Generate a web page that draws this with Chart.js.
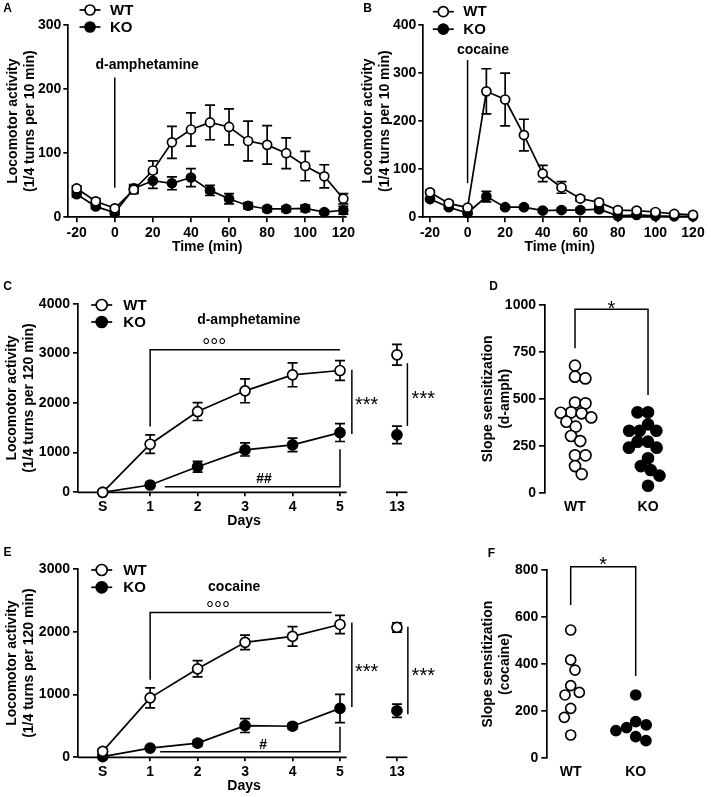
<!DOCTYPE html>
<html>
<head>
<meta charset="utf-8">
<script src="https://cdn.jsdelivr.net/npm/chart.js@4.4.1/dist/chart.umd.min.js"></script>
<style>
  html, body { margin: 0; padding: 0; background: #fff; }
  #fig { position: relative; width: 711px; height: 797px; }
  #fig canvas { position: absolute; left: 0; top: 0; }
</style>
</head>
<body>
<div id="fig">
  <canvas id="panelA" width="711" height="797"></canvas>
  <canvas id="panelB" width="711" height="797"></canvas>
  <canvas id="panelC" width="711" height="797"></canvas>
  <canvas id="panelD" width="711" height="797"></canvas>
  <canvas id="panelE" width="711" height="797"></canvas>
  <canvas id="panelF" width="711" height="797"></canvas>
</div>
<script>
// ---- data ----
const groups = ['WT', 'KO'];

// A / B : time course, 10 min bins
const timeMin = [-20, -10, 0, 10, 20, 30, 40, 50, 60, 70, 80, 90, 100, 110, 120];
const timeTicks = [-20, 0, 20, 40, 60, 80, 100, 120];

const ampWT = [45, 25, 14, 43, 73, 117, 137, 148, 141, 119, 113, 100, 80, 64, 29];
const ampWTsem = [4, 4, 3, 6, 15, 25, 26, 27, 28, 31, 30, 24, 23, 18, 8];
const ampKO = [36, 17, 7, 45, 57, 53, 62, 42, 29, 18, 13, 13, 14, 8, 11];
const ampKOsem = [4, 3, 3, 6, 12, 10, 14, 8, 8, 5, 4, 4, 5, 3, 6];

const cocWT = [52, 29, 20, 262, 245, 171, 91, 62, 39, 31, 15, 14, 11, 7, 5];
const cocWTsem = [4, 4, 3, 47, 55, 33, 17, 12, 5, 5, 4, 4, 4, 3, 2];
const cocKO = [38, 21, 9, 43, 21, 21, 14, 15, 15, 17, 3, 5, 3, 2, 2];
const cocKOsem = [4, 3, 3, 11, 4, 4, 3, 4, 4, 5, 2, 2, 2, 1, 1];

// C / E : sensitization over days
const days = ['S', '1', '2', '3', '4', '5', '13'];

const sensAmpWT = [0, 1169, 1827, 2245, 2567, 2654, 2971];
const sensAmpWTsem = [0, 190, 180, 240, 240, 200, 210];
const sensAmpKO = [0, 184, 646, 1055, 1156, 1404, 1358];
const sensAmpKOsem = [0, 60, 135, 140, 135, 180, 175];

const sensCocWT = [95, 947, 1410, 1831, 1926, 2116, 2069];
const sensCocWTsem = [40, 158, 130, 115, 155, 145, 75];
const sensCocKO = [10, 147, 226, 505, 495, 779, 742];
const sensCocKOsem = [0, 30, 50, 110, 45, 225, 105];

// D / F : individual slopes
const slopeAmpWT = [677, 618, 609, 480, 476, 428, 426, 423, 401, 378, 352, 302, 275, 199, 199, 142, 99];
const slopeAmpKO = [428, 428, 364, 330, 330, 330, 272, 272, 240, 240, 183, 142, 121, 91, 37];
const slopeCocWT = [545, 418, 375, 309, 280, 269, 212, 174, 99];
const slopeCocKO = [269, 156, 142, 130, 118, 92, 75];

const ticksA = [0, 100, 200, 300];
const ticksB = [0, 100, 200, 300, 400];
const ticksC = [0, 1000, 2000, 3000, 4000];
const ticksE = [0, 1000, 2000, 3000];
const ticksD = [0, 250, 500, 750, 1000];
const ticksF = [0, 200, 400, 600, 800];

// ---- setup ----
const FONT = "'Liberation Sans', Arial, Helvetica, sans-serif";
Chart.defaults.font.family = FONT;
Chart.defaults.color = '#000';

// y axis of C is drawn with a compressed first segment (0-1000), as in the figure
class SplitLinearScale extends Chart.LinearScale {
  static id = 'splitLinear';
  _dec(v) {
    const s = this.options.split;
    if (v <= s.value) return (v - this.min) / (s.value - this.min) * s.fraction;
    return s.fraction + (v - s.value) / (this.max - s.value) * (1 - s.fraction);
  }
  getPixelForValue(v) { return this.getPixelForDecimal(this._dec(v)); }
  getValueForPixel(p) {
    const s = this.options.split, d = this.getDecimalForPixel(p);
    if (d <= s.fraction) return this.min + d / s.fraction * (s.value - this.min);
    return s.value + (d - s.fraction) / (1 - s.fraction) * (this.max - s.value);
  }
}
Chart.register(SplitLinearScale);

// the day-13 point sits after a break in the axis
const dayGap = 1.2;
const dayX = i => (i <= 5 ? i : 5 + dayGap);

// simple beeswarm: pixel x offsets so that dots do not overlap
function swarm(values, diam, pxPerY) {
  const placed = [];
  const off = new Array(values.length);
  const order = values.map((v, i) => i).sort((a, b) => values[b] - values[a]);
  order.forEach((i, n) => {
    const y = values[i] * pxPerY;
    const cands = [0];
    placed.forEach(p => {
      const dy = Math.abs(p.y - y);
      if (dy < diam) {
        const dx = Math.sqrt(diam * diam - dy * dy);
        cands.push(p.x + dx, p.x - dx);
      }
    });
    // alternate the side chosen on ties so the swarm stays centred
    const side = n % 2 ? -1 : 1;
    cands.sort((a, b) => Math.abs(a) - Math.abs(b) || side * (b - a));
    const x = cands.find(c => placed.every(p => Math.hypot(p.x - c, p.y - y) >= diam - 0.01));
    placed.push({x, y});
    off[i] = x;
  });
  return off;
}

function valueAxis(o) {
  return {
    type: o.type || 'linear', position: 'left',
    min: o.ticks[0], max: o.ticks[o.ticks.length - 1], split: o.split,
    afterBuildTicks: s => { s.ticks = o.ticks.map(v => ({value: v})); },
    afterFit: s => { s.width = o.width; },
    border: {display: true, color: '#000', width: 1.7},
    grid: {display: true, drawOnChartArea: false, drawTicks: true, tickLength: o.tickLength || 5, color: '#000', lineWidth: 1.7},
    ticks: {padding: o.tickPad || 2, autoSkip: false, color: '#000', font: {size: 14, weight: 'bold'}, callback: v => String(v)},
    title: {display: true, text: o.title, color: '#000', font: {size: 14, weight: 'bold', lineHeight: 1.23}, padding: {top: o.titlePad, bottom: 0}}
  };
}

function baseAxis(o) {
  const showGrid = o.grid !== false;
  return {
    type: 'linear', position: 'bottom', min: o.min, max: o.max,
    afterBuildTicks: s => { s.ticks = o.ticks.map(v => ({value: v})); },
    afterFit: s => { s.height = o.height; },
    border: {display: o.border !== false, color: '#000', width: 1.7},
    grid: {display: showGrid, drawOnChartArea: false, drawTicks: showGrid, tickLength: o.tickLength || 5, color: '#000', lineWidth: 1.7},
    ticks: {padding: o.tickPad, autoSkip: false, maxRotation: 0, color: '#000', font: {size: 14, weight: 'bold'},
            callback: o.label || (v => String(v))},
    title: o.title ? {display: true, text: o.title, color: '#000', font: {size: 14, weight: 'bold'}, padding: {top: 0, bottom: 2}}
                   : {display: false}
  };
}

function lineSet(label, xs, ys, errs, filled, r, breakLast) {
  const ds = {
    label, data: xs.map((x, i) => ({x, y: ys[i]})), errors: errs,
    borderColor: '#000', borderWidth: 1.7, tension: 0, fill: false, clip: false,
    pointRadius: r, pointHoverRadius: r, pointBorderWidth: 1.7, pointBorderColor: '#000',
    pointBackgroundColor: filled ? '#000' : '#fff'
  };
  if (breakLast) ds.segment = {borderColor: c => (c.p1DataIndex === ys.length - 1 ? 'rgba(0,0,0,0)' : '#000')};
  return ds;
}

function dotSet(label, values, group, filled, r, pxY, pxX, diam) {
  const off = swarm(values, diam, pxY);
  return {
    label, data: values.map((v, i) => ({x: group + off[i] / pxX, y: v})),
    showLine: false, clip: false,
    pointRadius: r, pointHoverRadius: r, pointBorderWidth: 1.7, pointBorderColor: '#000',
    pointBackgroundColor: filled ? '#000' : '#fff'
  };
}

const decor = {
  id: 'decor',
  beforeDatasetsDraw(chart, args, o) {
    const {ctx, chartArea} = chart, xs = chart.scales.x, ys = chart.scales.y;
    ctx.save();
    ctx.strokeStyle = '#000';
    ctx.lineWidth = 1.7;
    (o.axisSegments || []).forEach(([a, b]) => {
      ctx.beginPath();
      ctx.moveTo(xs.getPixelForValue(a), chartArea.bottom);
      ctx.lineTo(xs.getPixelForValue(b), chartArea.bottom);
      ctx.stroke();
    });
    const cap = 5;
    chart.data.datasets.forEach(ds => {
      if (!ds.errors) return;
      ds.data.forEach((p, j) => {
        const e = ds.errors[j];
        if (!e) return;
        const x = xs.getPixelForValue(p.x);
        const y1 = ys.getPixelForValue(p.y + e), y2 = ys.getPixelForValue(p.y - e);
        ctx.beginPath();
        ctx.moveTo(x, y1); ctx.lineTo(x, y2);
        ctx.moveTo(x - cap, y1); ctx.lineTo(x + cap, y1);
        ctx.moveTo(x - cap, y2); ctx.lineTo(x + cap, y2);
        ctx.stroke();
      });
    });
    ctx.restore();
  },
  afterDraw(chart, args, o) {
    const {ctx} = chart, xs = chart.scales.x, ys = chart.scales.y;
    ctx.save();
    ctx.strokeStyle = '#000';
    ctx.fillStyle = '#000';
    ctx.lineWidth = 1.5;
    (o.marks || []).forEach(m => {
      if (m.path) {
        ctx.beginPath();
        m.path.forEach(([x, y], k) => {
          const px = xs.getPixelForValue(x), py = ys.getPixelForValue(y);
          if (k) ctx.lineTo(px, py); else ctx.moveTo(px, py);
        });
        ctx.stroke();
      } else {
        ctx.font = `${m.weight || 'bold'} ${m.size || 14}px ${FONT}`;
        ctx.textAlign = 'center';
        ctx.textBaseline = m.raise ? 'alphabetic' : 'middle';
        ctx.fillText(m.text, xs.getPixelForValue(m.x), ys.getPixelForValue(m.y) + (m.raise || 0));
      }
    });
    if (o.legend) {
      const L = o.legend;
      chart.data.datasets.slice(0, 2).forEach((ds, i) => {
        const y = L.y + i * L.dy;
        ctx.lineWidth = 1.7;
        ctx.beginPath();
        ctx.moveTo(L.x - 10.5, y); ctx.lineTo(L.x + 10.5, y);
        ctx.stroke();
        ctx.beginPath();
        ctx.arc(L.x, y, ds.pointRadius + 0.5, 0, Math.PI * 2);
        ctx.fillStyle = ds.pointBackgroundColor;
        ctx.fill();
        ctx.stroke();
        ctx.fillStyle = '#000';
        ctx.font = `bold 15px ${FONT}`;
        ctx.textAlign = 'left';
        ctx.textBaseline = 'middle';
        ctx.fillText(ds.label, L.textX, y + 0.5);
      });
    }
    if (o.letter) {
      ctx.fillStyle = '#000';
      ctx.font = `bold 12px ${FONT}`;
      ctx.textAlign = 'center';
      ctx.textBaseline = 'middle';
      ctx.fillText(o.letter.text, o.letter.x, o.letter.y);
    }
    ctx.restore();
  }
};

function makePanel(id, cfg) {
  return new Chart(document.getElementById(id), {
    type: cfg.type || 'line',
    data: {datasets: cfg.datasets},
    options: {
      responsive: false, animation: false, events: [],
      layout: {padding: cfg.padding},
      scales: {x: cfg.x, y: cfg.y},
      plugins: {legend: {display: false}, tooltip: {enabled: false}, decor: cfg.decor}
    },
    plugins: [decor]
  });
}

const titleMin10 = ['Locomotor activity', '(1/4 turns per 10 min)'];
const titleMin120 = ['Locomotor activity', '(1/4 turns per 120 min)'];
const dayPos = days.map((d, i) => dayX(i));
const dayLabel = (v, i) => days[i];

// ---- A ----
makePanel('panelA', {
  padding: {left: 0, top: 25, right: 365, bottom: 539},
  datasets: [
    lineSet(groups[0], timeMin, ampWT, ampWTsem, false, 4.5),
    lineSet(groups[1], timeMin, ampKO, ampKOsem, true, 4.5)
  ],
  x: baseAxis({min: -24.4, max: 121.4, ticks: timeTicks, height: 40.7, tickPad: 2, tickLength: 5, title: 'Time (min)'}),
  y: valueAxis({ticks: ticksA, width: 68.3, title: titleMin10, titlePad: 4.6, tickLength: 5, tickPad: 2}),
  decor: {
    legend: {x: 90, y: 10, dy: 17, textX: 110},
    letter: {text: 'A', x: 7.5, y: 9},
    marks: [
      {path: [[0, 46], [0, 218]]},
      {text: 'd-amphetamine', x: 17, y: 238}
    ]
  }
});

// ---- B ----
makePanel('panelB', {
  padding: {left: 355, top: 25, right: 15, bottom: 539},
  datasets: [
    lineSet(groups[0], timeMin, cocWT, cocWTsem, false, 4.5),
    lineSet(groups[1], timeMin, cocKO, cocKOsem, true, 4.5)
  ],
  x: baseAxis({min: -23.57, max: 121.6, ticks: timeTicks, height: 40.7, tickPad: 2, tickLength: 5, title: 'Time (min)'}),
  y: valueAxis({ticks: ticksB, width: 68.3, title: titleMin10, titlePad: 4.7, tickLength: 5, tickPad: 2}),
  decor: {
    legend: {x: 443.3, y: 11.7, dy: 17.5, textX: 463.3},
    letter: {text: 'B', x: 367.5, y: 9},
    marks: [
      {path: [[0, 71], [0, 327]]},
      {text: 'cocaine', x: 8.2, y: 348}
    ]
  }
});

// ---- C ----
makePanel('panelC', {
  padding: {left: 0, top: 303.7, right: 301, bottom: 265},
  datasets: [
    lineSet(groups[0], dayPos, sensAmpWT, sensAmpWTsem, false, 5, true),
    lineSet(groups[1], dayPos, sensAmpKO, sensAmpKOsem, true, 5, true)
  ],
  x: baseAxis({min: -0.52, max: 6.475, ticks: dayPos, height: 39.7, tickPad: 2, tickLength: 4, border: false,
               title: 'Days', label: dayLabel}),
  y: valueAxis({type: 'splitLinear', split: {value: 1000, fraction: 0.2103}, ticks: ticksC, width: 78,
                title: titleMin120, titlePad: 3.8, tickLength: 5, tickPad: 3}),
  decor: {
    axisSegments: [[-0.52, 5.14], [5.97, 6.42]],
    legend: {x: 101.7, y: 305, dy: 17, textX: 123.3},
    letter: {text: 'C', x: 7.5, y: 287},
    marks: [
      {text: 'd-amphetamine', x: 3.08, y: 3660},
      {path: [[1, 1525], [1, 3070], [5, 3070]]},
      {text: '°°°', x: 2.35, y: 3240, size: 20, weight: 'normal', raise: 11.4},
      {path: [[5.25, 2668], [5.25, 1377]]},
      {text: '***', x: 5.56, y: 2063, size: 20, weight: 'normal', raise: 11.5},
      {path: [[6.42, 2803], [6.42, 1539]]},
      {text: '***', x: 6.755, y: 2198, size: 20, weight: 'normal', raise: 11.5},
      {path: [[1.31, 141], [5, 141], [5, 1069]]},
      {text: '##', x: 3.4, y: 338}
    ]
  }
});

// ---- D ----
const pxYD = 187.7 / 1000, pxXD = 73;
makePanel('panelD', {
  type: 'scatter',
  padding: {left: 460, top: 305, right: 11, bottom: 277},
  datasets: [
    dotSet(groups[0], slopeAmpWT, 1, false, 5.5, pxYD, pxXD, 10.5),
    dotSet(groups[1], slopeAmpKO, 2, true, 5.5, pxYD, pxXD, 10.5)
  ],
  x: baseAxis({min: 0.589, max: 2.712, ticks: [1, 2], height: 27.3, tickPad: 5.6, grid: false, border: false,
               label: (v, i) => groups[i]}),
  y: valueAxis({ticks: ticksD, width: 85, title: ['Slope sensitization', '(d-amph)'], titlePad: 19.4, tickLength: 6, tickPad: 3}),
  decor: {
    letter: {text: 'D', x: 493.5, y: 287},
    marks: [
      {path: [[1, 769], [1, 977], [2, 977], [2, 520]]},
      {text: '*', x: 1.5, y: 1010, size: 20, weight: 'normal', raise: 11.5}
    ]
  }
});

// ---- E ----
makePanel('panelE', {
  padding: {left: 0, top: 569, right: 301, bottom: 0},
  datasets: [
    lineSet(groups[0], dayPos, sensCocWT, sensCocWTsem, false, 5, true),
    lineSet(groups[1], dayPos, sensCocKO, sensCocKOsem, true, 5, true)
  ],
  x: baseAxis({min: -0.52, max: 6.475, ticks: dayPos, height: 39.7, tickPad: 2, tickLength: 4, border: false,
               title: 'Days', label: dayLabel}),
  y: valueAxis({ticks: ticksE, width: 78, title: titleMin120, titlePad: 3.8, tickLength: 5, tickPad: 3}),
  decor: {
    axisSegments: [[-0.52, 5.14], [5.97, 6.42]],
    legend: {x: 101.7, y: 570, dy: 17.3, textX: 123.3},
    letter: {text: 'E', x: 7.5, y: 553},
    marks: [
      {text: 'cocaine', x: 2.77, y: 2713},
      {path: [[1, 1236], [1, 2306], [4.825, 2306]]},
      {text: '°°°', x: 2.43, y: 2440, size: 20, weight: 'normal', raise: 11.4},
      {path: [[5.25, 2148], [5.25, 802]]},
      {text: '***', x: 5.56, y: 1446, size: 20, weight: 'normal', raise: 11.5},
      {path: [[6.43, 2080], [6.43, 686]]},
      {text: '***', x: 6.755, y: 1383, size: 20, weight: 'normal', raise: 11.5},
      {path: [[1.21, 89], [5, 89], [5, 485]]},
      {text: '#', x: 3.38, y: 190}
    ]
  }
});

// ---- F ----
const pxYF = 188.3 / 800, pxXF = 65;
makePanel('panelF', {
  type: 'scatter',
  padding: {left: 460, top: 570, right: 11, bottom: 11},
  datasets: [
    dotSet(groups[0], slopeCocWT, 1, false, 5, pxYF, pxXF, 11),
    dotSet(groups[1], slopeCocKO, 2, true, 5, pxYF, pxXF, 11)
  ],
  x: baseAxis({min: 0.64, max: 2.989, ticks: [1, 2], height: 27.7, tickPad: 5, grid: false, border: false,
               label: (v, i) => groups[i]}),
  y: valueAxis({ticks: ticksF, width: 87.3, title: ['Slope sensitization', '(cocaine)'], titlePad: 19.7, tickLength: 6, tickPad: 3}),
  decor: {
    letter: {text: 'F', x: 491.5, y: 553.5},
    marks: [
      {path: [[1, 651], [1, 814], [2, 814], [2, 350]]},
      {text: '*', x: 1.5, y: 845, size: 20, weight: 'normal', raise: 11.5}
    ]
  }
});
</script>
</body>
</html>
